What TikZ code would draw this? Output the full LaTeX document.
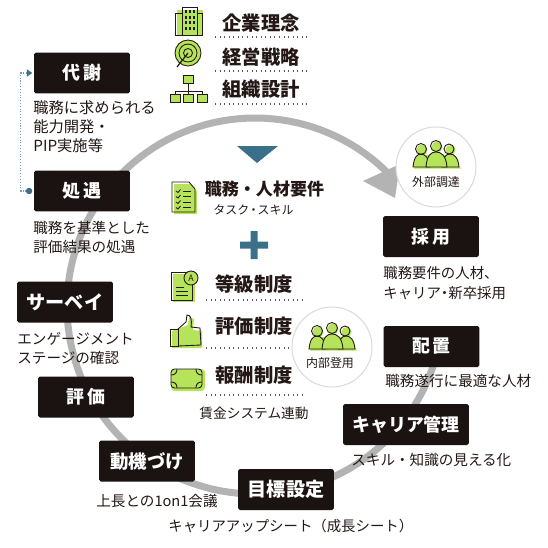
\documentclass[tikz,border=0pt]{standalone}
\usepackage{fontspec}
\setmainfont{Noto Sans CJK JP}
\usepackage{xcolor}
\usetikzlibrary{
  arrows.meta,
  positioning,
}
\definecolor{stagebg}{HTML}{1A1311}
\definecolor{ringgray}{HTML}{B3B3B3}
\definecolor{teal}{HTML}{3A708A}
\definecolor{leaf}{HTML}{B5E35A}
\definecolor{ink}{HTML}{231815}
\tikzset{
  stagebox/.style={rectangle, fill=stagebg, rounded corners=1pt, text=white,
                   minimum width=1.92cm, minimum height=0.82cm, inner sep=0pt,
                   font=\fontsize{10.2}{12}\selectfont\bfseries},
  widestage/.style={stagebox, font=\fontsize{10.9}{12}\selectfont\bfseries},
  note/.style={anchor=west, inner sep=0pt, align=left, text=ink,
               font=\fontsize{8.3}{10.8}\selectfont},
  headtext/.style={inner sep=0pt, text=ink,
                   font=\fontsize{11}{13}\selectfont\bfseries},
  dotrule/.style={dotted, line width=0.6pt, draw=black!65},
  bubble/.style={circle, draw=black!14, fill=white, line width=0.6pt,
                 minimum size=1.6cm, inner sep=0pt},
  smalltext/.style={inner sep=0pt, text=ink, font=\fontsize{6.8}{8}\selectfont},
  icon/.style={draw=ink, line width=0.5pt},
  people/.pic={
    \fill[leaf] (-22,13.5) -- (-15,0) -- (15,0) -- (25,13.5) -- cycle;
    \fill[leaf] (-14,-5) circle (5.5) (1,-8) circle (5.5) (14.5,-5) circle (5);
    \draw[icon, fill=leaf] (-23,12) .. controls (-22,1) and (-18,-1) .. (-15,-1)
      .. controls (-11,-1) and (-7,3) .. (-6,12) -- cycle;
    \draw[icon, fill=leaf] (6,12) .. controls (7,2) and (10,-1) .. (14,-1)
      .. controls (18,-1) and (22,2) .. (23,12) -- cycle;
    \draw[icon, fill=leaf] (-10,12) .. controls (-9,0) and (-5,-3) .. (0,-3)
      .. controls (5,-3) and (10,0) .. (11,12) -- cycle;
    \draw[icon] (-15,-6) circle (5.5) (0,-9) circle (5.5) (13,-6) circle (5);
  },
}
\begin{document}
\begin{tikzpicture}[x=0.02cm, y=-0.02cm]
  \useasboundingbox (0,0) rectangle (548,548);

  % big ring
  \draw[ringgray, line width=0.14cm] plot[domain=14:316, samples=120]
    ({255+188*cos(\x)},{306+188*sin(\x)});
  \fill[ringgray] (363,181) -- (395,198) -- (400,164) -- cycle;

  % top block
  \fill[leaf] (177,10) rectangle (203,36);
  \draw[icon] (182,7) rectangle (197,35) (175,13) rectangle (182,35) (197,13) rectangle (202,35);
  \foreach \wx in {184.5,188.5,192.5} \foreach \wy in {10,15.5,21,26.5}
    \fill[ink] (\wx,\wy) rectangle ++(2.4,3.4);
  \draw[icon, fill=leaf] (188,53) circle (13);
  \draw[icon] (188,53) circle (9) (188,53) circle (4.5);
  \draw[icon, line width=0.7pt] (177,67) -- (188,53);
  \draw[icon] (188,83) -- (188,91) (175,94) -- (175,91) -- (202,91) -- (202,94) (188,91) -- (188,94);
  \foreach \bx/\by in {188/79,175/98,188/98,202/98}
    \draw[icon, fill=leaf] (\bx-5,\by-4) rectangle (\bx+5,\by+4);

  \node[headtext] (rinen) at (261,23) {企業理念};
  \node[headtext] (senryaku) at (261,57) {経営戦略};
  \node[headtext] (sekkei) at (261,89) {組織設計};
  \draw[dotrule] (215,37) -- (308,37) (215,71) -- (308,71) (215,104) -- (308,104);

  \fill[teal] (237,146) -- (278,146) -- (257,163) -- cycle;

  % job block
  \fill[leaf] (174,184) -- (190,184) -- (197,191) -- (197,214) -- (174,214) -- cycle;
  \draw[icon] (172,182) -- (189,182) -- (195,189) -- (195,212) -- (172,212) -- cycle;
  \foreach \ly in {191,196.5,202,207.5} {
    \draw[icon] (176,\ly) -- (178,\ly+1.5) -- (180.5,\ly-1.5);
    \draw[icon] (183,\ly) -- (191,\ly);
  }
  \node[headtext, font=\fontsize{9.7}{12}\selectfont\bfseries] (yoken) at (264.5,189) {職務・人材要件};
  \node[smalltext] (task) at (253.5,210) {タスク\kern-1pt・\kern-1pt スキル};

  \fill[teal] (240,241.5) rectangle (268,248.5) (250.5,231) rectangle (257.5,259);

  % systems
  \fill[leaf] (173,274) rectangle (195,302);
  \draw[icon] (171,272) rectangle (192,300);
  \draw[icon] (176,287) -- (184,287) (176,291) -- (188,291) (176,295) -- (188,295);
  \draw[icon, fill=leaf] (191,278) circle (7);
  \node[inner sep=0pt, text=ink, font=\fontsize{5}{6}\selectfont] (grade) at (191,278) {A};

  \fill[leaf] (172,331) -- (188,325) -- (189,317) -- (194,319) -- (193,330) -- (202,331) -- (202,348) -- (172,348) -- cycle;
  \draw[icon] (170,329) rectangle (178,346);
  \draw[icon] (178,329) -- (186,322) -- (187,315) .. controls (191,315) and (192,319) .. (191,327)
    -- (200,328) -- (201,345) -- (178,346);

  \fill[leaf, rounded corners=2pt] (171,369) rectangle (205,391);
  \draw[icon, rounded corners=2pt] (171,369) rectangle (202,388);
  \draw[icon] (171,375) .. controls (175,375) and (177,373) .. (177,369)
    (196,369) .. controls (196,373) and (198,375) .. (202,375)
    (171,382) .. controls (175,382) and (177,384) .. (177,388)
    (196,388) .. controls (196,384) and (198,382) .. (202,382);

  \node[headtext] (tokyu) at (254,284) {等級制度};
  \node[headtext] (hyoka) at (254,326) {評価制度};
  \node[headtext] (hoshu) at (254,375) {報酬制度};
  \draw[dotrule] (206,300) -- (302,300) (206,348) -- (302,348) (206,395) -- (302,395);
  \node[smalltext, font=\fontsize{7.8}{9}\selectfont] (chingin) at (254,413) {賃金システム連動};

  % bubbles
  \node[bubble] (gaibu) at (436,167) {};
  \pic at (436,155) {people};
  \node[smalltext] (chotatsu) at (436,182) {外部調達};
  \node[bubble] (naibu) at (332,347) {};
  \pic at (332,337) {people};
  \node[smalltext] (toyo) at (330,363) {内部登用};

  % stages
  \node[stagebox] (taisha) at (82,73) {代\,謝};
  \node[stagebox] (shogu) at (82,191) {処\,遇};
  \node[widestage] (survey) at (65,302) {サーベイ};
  \node[stagebox] (hyokabox) at (86,397) {評\,価};
  \node[stagebox, font=\fontsize{10.5}{12}\selectfont\bfseries] (doki) at (147,461) {動機づけ};
  \node[widestage] (mokuhyo) at (286,489.5) {目標設定};
  \node[stagebox, minimum width=2.52cm] (career) at (406,424.5) {キャリア管理};
  \node[stagebox] (haichi) at (431.5,346.5) {配\,置};
  \node[stagebox] (saiyo) at (431,236.5) {採\,用};

  \draw[teal!70, densely dotted, line width=0.6pt, {Circle[length=3.6pt, teal]}-{Triangle[length=3pt, width=4pt, teal]},
        shorten <=0.8pt, shorten >=0.8pt]
    (shogu.west) -- ++(-13,0) |- (taisha.west);

  % notes
  \node[note, font=\fontsize{8.7}{10.8}\selectfont] (n1) at (33,127) {職務に求められる\\能力開発・\\PIP実施等};
  \node[note] (n2) at (33,237.5) {職務を基準とした\\評価結果の処遇};
  \node[note] (n3) at (17,348.5) {エンゲージメント\\ステージの確認};
  \node[note] (n4) at (96,501) {上長との1on1会議};
  \node[note, font=\fontsize{8.2}{10}\selectfont] (n5) at (168,526) {キャリアアップシート（成長シート）};
  \node[note] (n6) at (351,460) {スキル・知識の見える化};
  \node[note] (n7) at (385,381) {職務遂行に最適な人材};
  \node[note, font=\fontsize{8.2}{11.3}\selectfont] (n8) at (383,283) {職務要件の人材、\\キャリア\kern-2pt・\kern-2pt 新卒採用};
\end{tikzpicture}
\end{document}
